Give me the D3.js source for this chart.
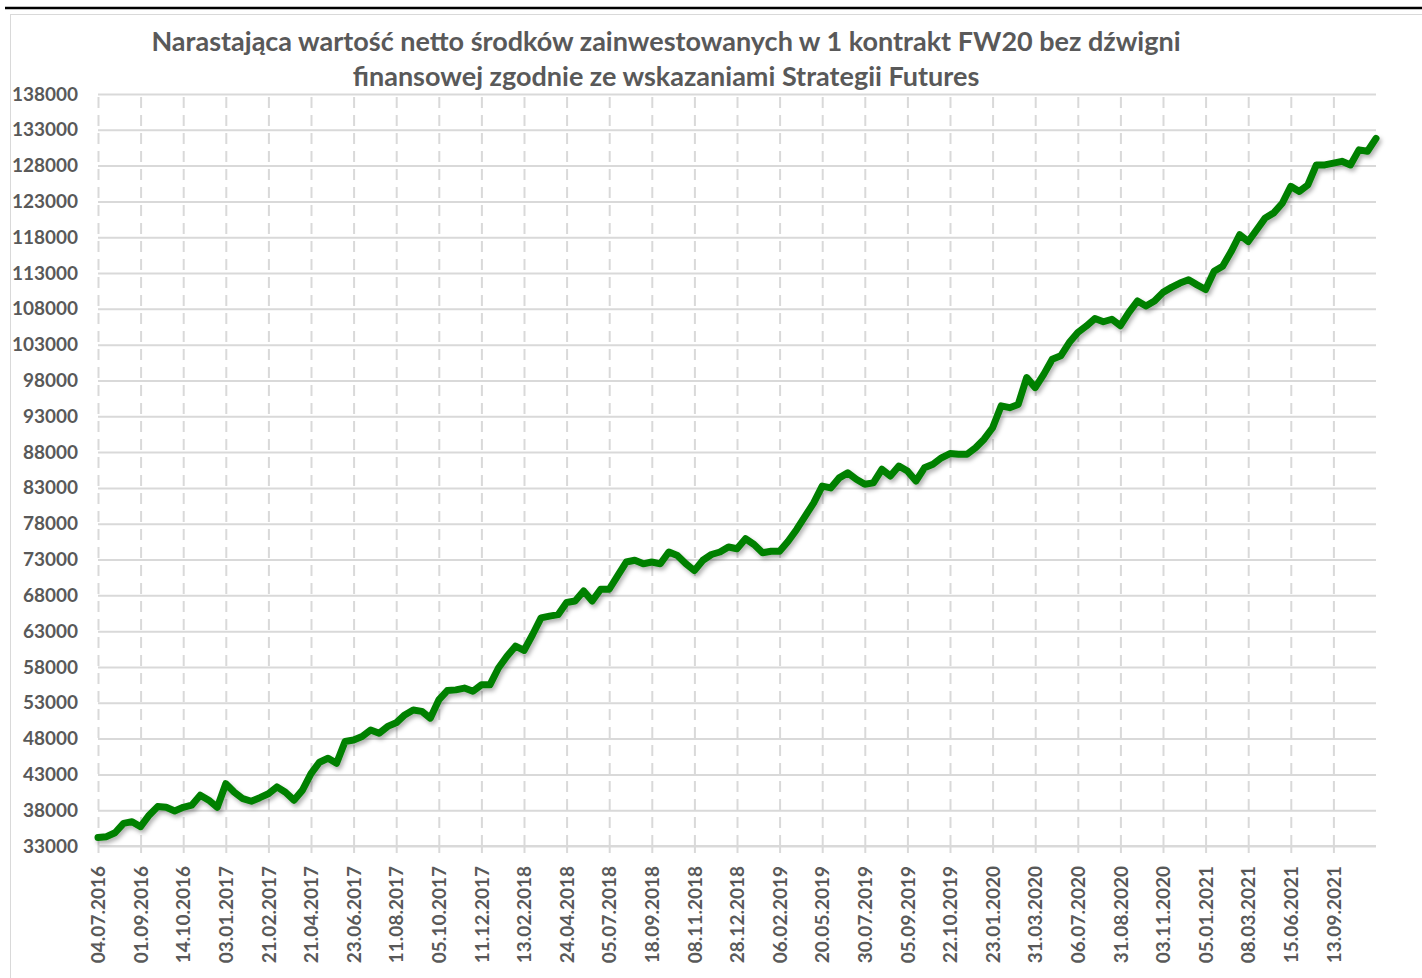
<!DOCTYPE html>
<html>
<head>
<meta charset="utf-8">
<script src="https://cdn.jsdelivr.net/npm/d3@7"></script>
<style>
  html, body { margin: 0; padding: 0; background: #fff; }
  svg { display: block; }
  text { font-family: Lato, "Open Sans", sans-serif; font-weight: bold; fill: #595959; }
</style>
</head>
<body>
<svg id="chart" width="1422" height="978"></svg>
<script>
// ---- data ----
const titleLines = [
  "Narastająca wartość netto środków zainwestowanych w 1 kontrakt FW20 bez dźwigni",
  "finansowej zgodnie ze wskazaniami Strategii Futures"
];
const dateLabels = [
  "04.07.2016","01.09.2016","14.10.2016","03.01.2017","21.02.2017","21.04.2017",
  "23.06.2017","11.08.2017","05.10.2017","11.12.2017","13.02.2018","24.04.2018",
  "05.07.2018","18.09.2018","08.11.2018","28.12.2018","06.02.2019","20.05.2019",
  "30.07.2019","05.09.2019","22.10.2019","23.01.2020","31.03.2020","06.07.2020",
  "31.08.2020","03.11.2020","05.01.2021","08.03.2021","15.06.2021","13.09.2021"
];
const labelEvery = 5;
const yTicks = d3.range(33000, 138001, 5000);
const values = [
  34200, 34300, 34850, 36150, 36400, 35700, 37300, 38500, 38400, 37900,
  38400, 38700, 40100, 39400, 38400, 41700, 40500, 39600, 39250, 39750,
  40300, 41250, 40500, 39400, 40800, 43100, 44700, 45250, 44550, 47600,
  47800, 48300, 49200, 48750, 49700, 50200, 51300, 52000, 51800, 50850,
  53400, 54700, 54800, 55050, 54600, 55500, 55500, 57850, 59500, 60900,
  60300, 62500, 64850, 65100, 65300, 67000, 67200, 68600, 67200, 68850,
  68850, 70750, 72650, 72900, 72400, 72650, 72400, 74050, 73550, 72400,
  71450, 72900, 73700, 74050, 74750, 74500, 75900, 75100, 73950, 74150,
  74150, 75550, 77200, 79050, 80900, 83250, 83000, 84400, 85100, 84200,
  83500, 83700, 85600, 84650, 86050, 85350, 83950, 85800, 86300, 87200,
  87800, 87700, 87700, 88600, 89800, 91400, 94450, 94200, 94650, 98400,
  97000, 98850, 100950, 101450, 103300, 104700, 105600, 106650, 106200, 106550,
  105650, 107500, 109100, 108400, 109100, 110300, 111000, 111600, 112050, 111350,
  110700, 113250, 113950, 116000, 118350, 117400, 119050, 120700, 121400, 122750,
  125100, 124400, 125300, 128100, 128100, 128350, 128600, 128100, 130200, 130000,
  131800
];

// ---- layout ----
const svg = d3.select("#chart");
const plot = { left: 98, right: 1376, top: 94, bottom: 846 };
const gridColor = "#d9d9d9";

const x = d3.scaleLinear().domain([0, values.length - 1]).range([plot.left, plot.right]);
const y = d3.scaleLinear().domain([33000, 138000]).range([plot.bottom, plot.top]);

// top black rule and chart frame
svg.append("line").attr("x1", 5).attr("x2", 1422).attr("y1", 8).attr("y2", 8)
  .attr("stroke", "#000").attr("stroke-width", 2.5);
svg.append("rect").attr("x", 10.5).attr("y", 14.5).attr("width", 1420).attr("height", 970)
  .attr("fill", "none").attr("stroke", gridColor).attr("stroke-width", 1);

// shadow filter
const defs = svg.append("defs");
const f = defs.append("filter").attr("id", "shadow").attr("x", "-5%").attr("y", "-5%")
  .attr("width", "110%").attr("height", "110%");
f.append("feDropShadow").attr("dx", 2).attr("dy", 3).attr("stdDeviation", 2)
  .attr("flood-color", "#000").attr("flood-opacity", 0.3);

// horizontal grid
const yAxis = d3.axisLeft(y).tickValues(yTicks).tickSize(-(plot.right - plot.left)).tickPadding(20)
  .tickFormat(d3.format("d"));
const gy = svg.append("g").attr("transform", `translate(${plot.left},0)`).call(yAxis);
gy.select(".domain").remove();
gy.selectAll(".tick line").attr("stroke", gridColor).attr("stroke-width", 2);
gy.selectAll(".tick text").style("font-size", "19px").attr("fill", "#595959")
  .style("font-family", "Lato, sans-serif").style("font-weight", "bold");

// vertical dashed grid + x labels
const tickIdx = dateLabels.map((d, i) => i * labelEvery);
const xAxis = d3.axisBottom(x).tickValues(tickIdx).tickSize(0)
  .tickFormat((d, i) => dateLabels[i]);
const gx = svg.append("g").attr("transform", `translate(0,${plot.bottom})`).call(xAxis);
gx.select(".domain").remove();
gx.selectAll(".tick text")
  .attr("transform", "rotate(-90)")
  .attr("text-anchor", "end")
  .attr("x", -20).attr("y", 0).attr("dy", "0.35em")
  .style("font-size", "19px").attr("fill", "#595959")
  .style("font-family", "Lato, sans-serif").style("font-weight", "bold");
gx.selectAll(".tick").append("line")
  .attr("y1", 0).attr("y2", 7).attr("stroke", gridColor).attr("stroke-width", 2);
gx.selectAll(".tick").append("line")
  .attr("y1", 0).attr("y2", plot.top - plot.bottom)
  .attr("stroke", gridColor).attr("stroke-width", 2).attr("stroke-dasharray", "11,7");

// axis base line
svg.append("line").attr("x1", plot.left).attr("x2", plot.right)
  .attr("y1", y(33000)).attr("y2", y(33000)).attr("stroke", gridColor).attr("stroke-width", 2);

// series line
const line = d3.line().x((d, i) => x(i)).y(d => y(d));
svg.append("path").datum(values)
  .attr("d", line)
  .attr("fill", "none")
  .attr("stroke", "#008000")
  .attr("stroke-width", 7)
  .attr("stroke-linejoin", "round")
  .attr("stroke-linecap", "round")
  .attr("filter", "url(#shadow)");

// title
const title = svg.append("text").attr("text-anchor", "middle").style("font-size", "27px");
titleLines.forEach((t, i) => {
  title.append("tspan").attr("x", 666).attr("y", 51 + i * 35).text(t);
});
</script>
</body>
</html>
